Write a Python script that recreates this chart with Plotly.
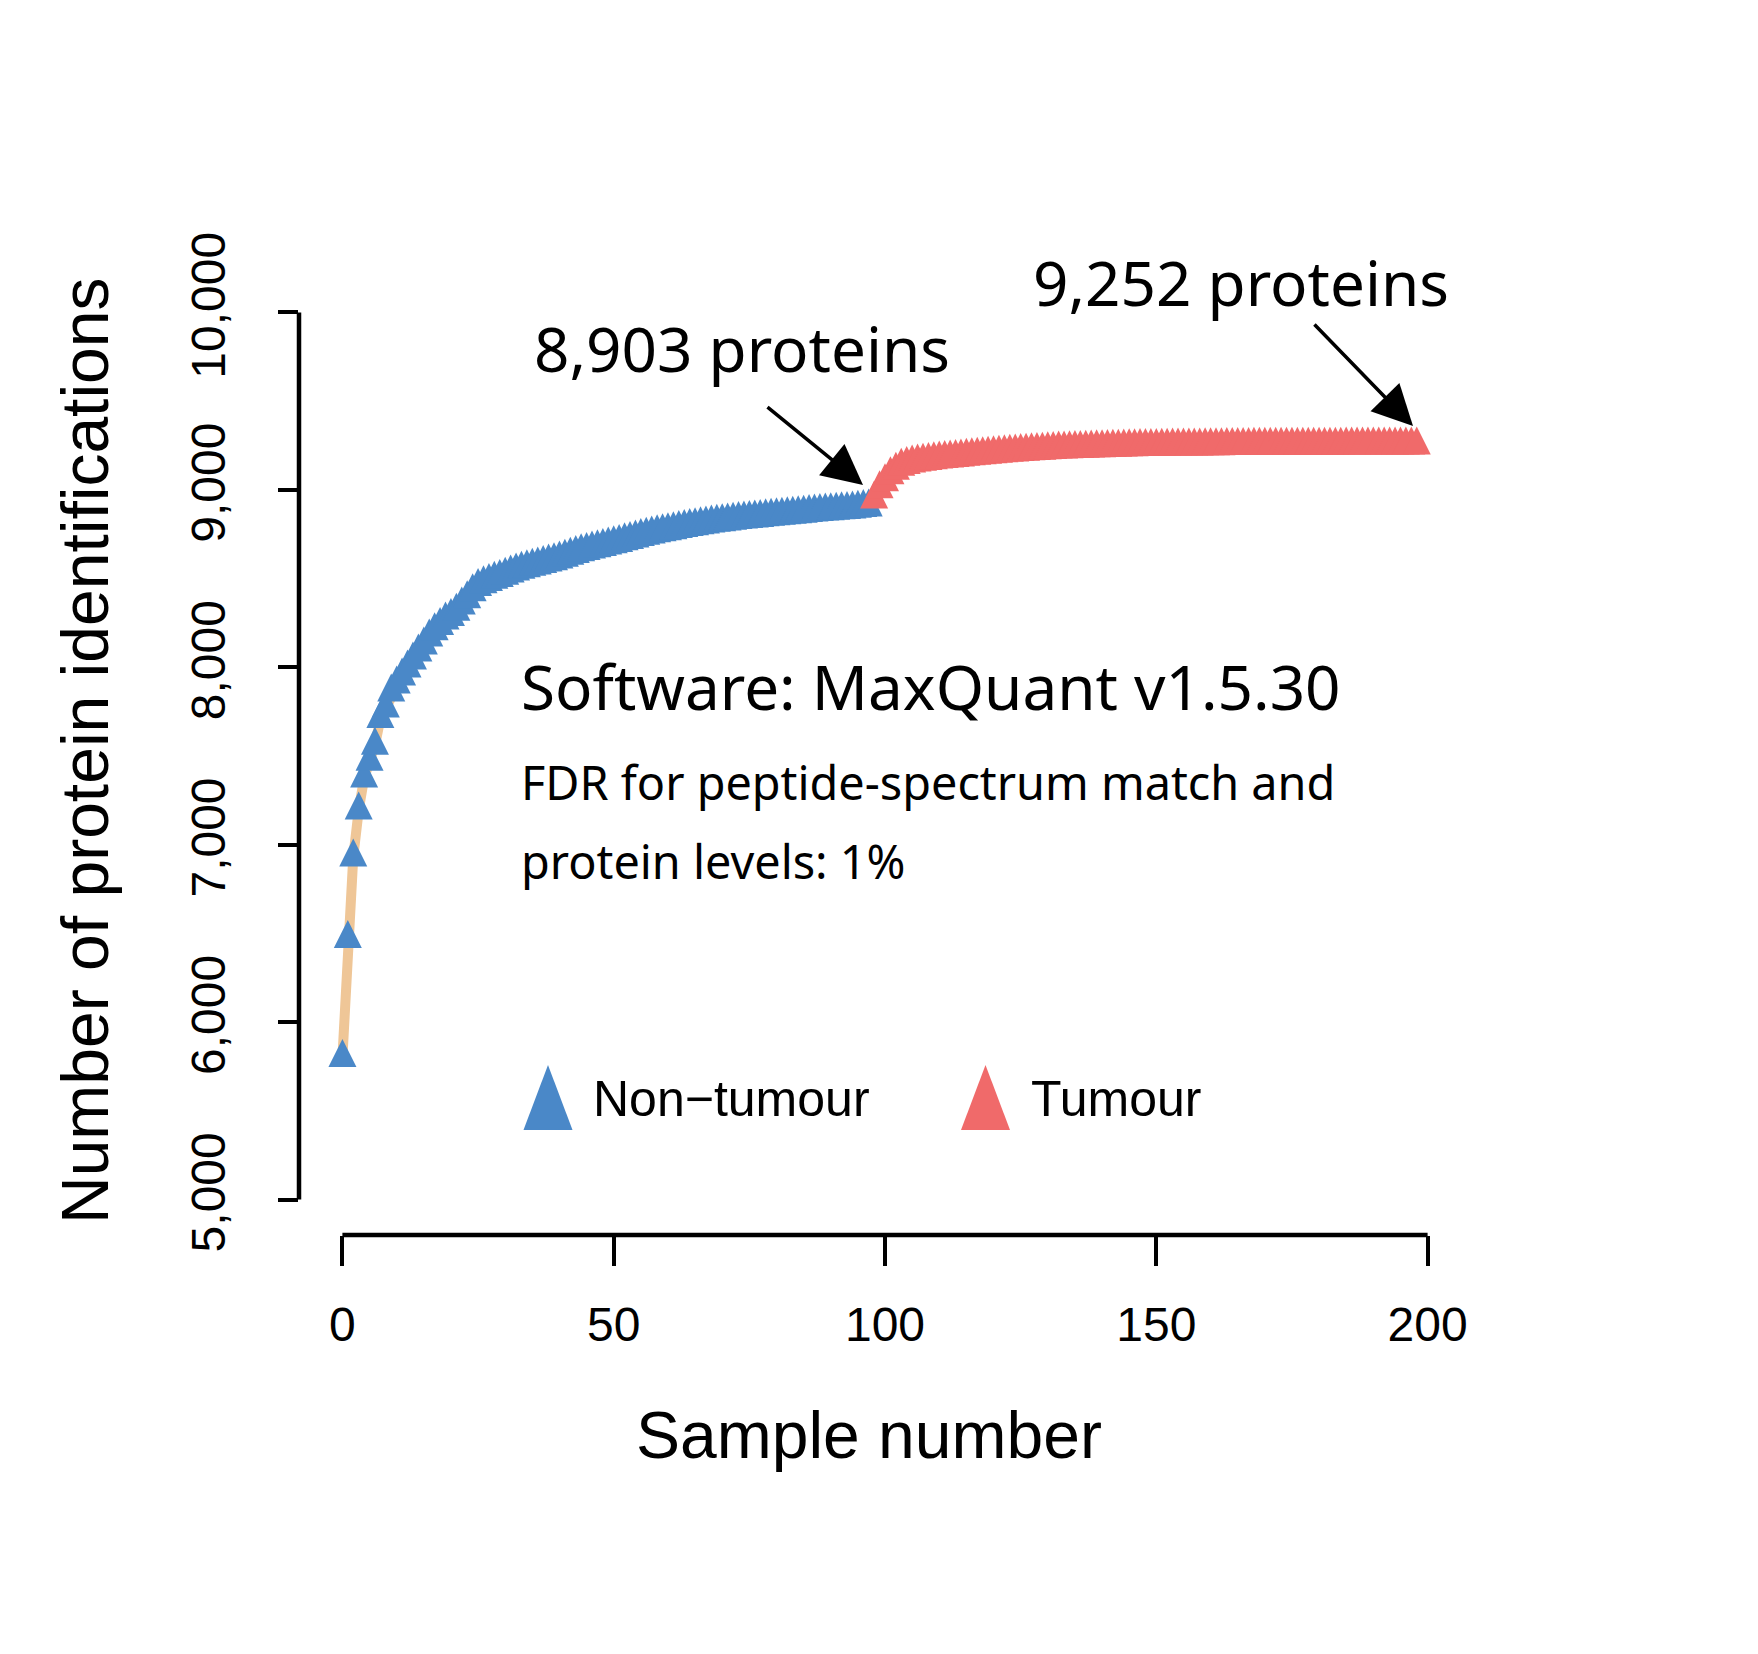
import plotly.graph_objects as go

# ---------------- data ----------------
sample_nontumour = list(range(0, 98))
proteins_nontumour = [
    5800, 6470, 6930, 7195, 7375, 7470, 7560, 7710, 7770, 7860,
    7905, 7950, 7995, 8040, 8085, 8125, 8170, 8205, 8235, 8265,
    8285, 8315, 8350, 8385, 8425, 8455, 8470, 8482, 8495, 8505,
    8518, 8530, 8542, 8552, 8560, 8568, 8576, 8584, 8592, 8600,
    8610, 8620, 8630, 8640, 8650, 8658, 8666, 8673, 8680, 8688,
    8695, 8703, 8712, 8720, 8728, 8737, 8744, 8751, 8757, 8763,
    8769, 8775, 8781, 8787, 8792, 8797, 8802, 8807, 8812, 8816,
    8820, 8824, 8828, 8832, 8835, 8838, 8841, 8844, 8847, 8850,
    8853, 8856, 8859, 8862, 8865, 8868, 8871, 8874, 8877, 8880,
    8882, 8884, 8887, 8889, 8892, 8896, 8900, 8903,
]
sample_tumour = list(range(98, 199))
proteins_tumour = [
    8947, 9005, 9045, 9085, 9110, 9132, 9142, 9150, 9156, 9161,
    9165, 9169, 9173, 9176, 9179, 9182, 9185, 9188, 9191, 9194,
    9197, 9200, 9203, 9206, 9209, 9211, 9213, 9215, 9217, 9219,
    9221, 9223, 9225, 9227, 9229, 9230, 9231, 9232, 9233, 9234,
    9235, 9236, 9237, 9238, 9239, 9240, 9241, 9242, 9242, 9243,
    9243, 9244, 9244, 9245, 9245, 9246, 9246, 9246, 9247, 9247,
    9247, 9248, 9248, 9248, 9248, 9249, 9249, 9249, 9249, 9249,
    9250, 9250, 9250, 9250, 9250, 9250, 9250, 9251, 9251, 9251,
    9251, 9251, 9251, 9251, 9251, 9251, 9251, 9252, 9252, 9252,
    9252, 9252, 9252, 9252, 9252, 9252, 9252, 9252, 9252, 9252,
    9252,
]
x_ticks = [0, 50, 100, 150, 200]
y_ticks = [5000, 6000, 7000, 8000, 9000, 10000]
series_names = ["Non\u2212tumour", "Tumour"]

# ---------------- style ----------------
W, H = 1758, 1654
L, R, T, B = 299, 1471, 277, 1235
BLUE = "#4A88C8"
RED = "#F06A6A"
TAN = "#EFC697"
AXFONT = "Liberation Sans"
TXFONT = "Noto Sans"
MSIZE = 28                      # marker size (px); arrow-up tip sits on the point
Y_RANGE = [4800, 10200]
# shift of the marker axis so that the triangle centroid (2/3 below tip) sits on the value
y_shift = (2.0 / 3.0) * MSIZE * (Y_RANGE[1] - Y_RANGE[0]) / (B - T)


def pxx(v):
    return (v - L) / (R - L)


def pxy(v):
    return (B - v) / (B - T)


fig = go.Figure()
fig.add_trace(go.Scatter(
    x=sample_nontumour + sample_tumour,
    y=proteins_nontumour + proteins_tumour,
    mode="lines", line=dict(color=TAN, width=10), showlegend=False,
    hoverinfo="skip"))
fig.add_trace(go.Scatter(
    x=sample_nontumour, y=proteins_nontumour, mode="markers", yaxis="y2",
    marker=dict(symbol="arrow-up", size=MSIZE, color=BLUE, line=dict(width=0)),
    name=series_names[0], showlegend=False))
fig.add_trace(go.Scatter(
    x=sample_tumour, y=proteins_tumour, mode="markers", yaxis="y2",
    marker=dict(symbol="arrow-up", size=MSIZE, color=RED, line=dict(width=0)),
    name=series_names[1], showlegend=False))

shapes = [
    dict(type="line", xref="paper", yref="y", x0=0, x1=0,
         y0=y_ticks[0], y1=y_ticks[-1], line=dict(color="black", width=4.5)),
    dict(type="line", xref="x", yref="paper", x0=x_ticks[0], x1=x_ticks[-1],
         y0=0, y1=0, line=dict(color="black", width=4.5)),
]


def tri(cx, top, bottom, half, color):
    return dict(type="path", xref="paper", yref="paper",
                path=f"M {pxx(cx - half)} {pxy(bottom)} L {pxx(cx + half)} {pxy(bottom)} "
                     f"L {pxx(cx)} {pxy(top)} Z",
                fillcolor=color, line=dict(width=0))


shapes.append(tri(548, 1065, 1130, 24.5, BLUE))
shapes.append(tri(985.5, 1065, 1130, 24.5, RED))

annotations = [
    dict(text="Number of protein identifications", textangle=-90,
         x=pxx(85), y=pxy(751), xref="paper", yref="paper",
         showarrow=False, font=dict(family=AXFONT, size=66, color="black"),
         xanchor="center", yanchor="middle"),
    dict(text="Sample number", x=pxx(869), y=pxy(1435), xref="paper", yref="paper",
         showarrow=False, font=dict(family=AXFONT, size=66, color="black"),
         xanchor="center", yanchor="middle"),
    dict(text="8,903 proteins", x=pxx(742), y=pxy(348), xref="paper", yref="paper",
         showarrow=False, font=dict(family=TXFONT, size=62, color="black"),
         xanchor="center", yanchor="middle"),
    dict(text="9,252 proteins", x=pxx(1241), y=pxy(282), xref="paper", yref="paper",
         showarrow=False, font=dict(family=TXFONT, size=62, color="black"),
         xanchor="center", yanchor="middle"),
    dict(text="Software: MaxQuant v1.5.30", x=pxx(519), y=pxy(686), xref="paper",
         yref="paper", showarrow=False,
         font=dict(family=TXFONT, size=62, color="black"),
         xanchor="left", yanchor="middle"),
    dict(text="FDR for peptide-spectrum match and", x=pxx(519), y=pxy(782),
         xref="paper", yref="paper", showarrow=False,
         font=dict(family=TXFONT, size=46.8, color="black"),
         xanchor="left", yanchor="middle"),
    dict(text="protein levels: 1%", x=pxx(519), y=pxy(861),
         xref="paper", yref="paper", showarrow=False,
         font=dict(family=TXFONT, size=46.8, color="black"),
         xanchor="left", yanchor="middle"),
    dict(text=series_names[0], x=pxx(591), y=pxy(1099), xref="paper", yref="paper",
         showarrow=False, font=dict(family=AXFONT, size=50, color="black"),
         xanchor="left", yanchor="middle"),
    dict(text=series_names[1], x=pxx(1029), y=pxy(1099), xref="paper", yref="paper",
         showarrow=False, font=dict(family=AXFONT, size=50, color="black"),
         xanchor="left", yanchor="middle"),
    dict(text="", x=pxx(863), y=pxy(485), xref="paper", yref="paper",
         ax=-97, ay=-79, showarrow=True, arrowhead=2, arrowsize=2.3,
         arrowwidth=3.5, arrowcolor="black"),
    dict(text="", x=pxx(1413), y=pxy(426), xref="paper", yref="paper",
         ax=-100, ay=-103, showarrow=True, arrowhead=2, arrowsize=2.3,
         arrowwidth=3.5, arrowcolor="black"),
]

fig.update_layout(
    width=W, height=H, autosize=False,
    margin=dict(l=L, r=W - R, t=T, b=H - B, pad=0),
    paper_bgcolor="white", plot_bgcolor="white",
    showlegend=False,
    shapes=shapes, annotations=annotations,
    xaxis=dict(range=[-8, 208], tickvals=x_ticks, ticktext=[str(v) for v in x_ticks],
               ticks="outside", ticklen=30, tickwidth=4, tickcolor="black",
               showgrid=False, zeroline=False, showline=False,
               tickfont=dict(family=AXFONT, size=48, color="black"),
               ticklabelstandoff=17),
    yaxis=dict(range=Y_RANGE, tickvals=y_ticks, tickformat=",d",
               ticks="outside", ticklen=20, tickwidth=4, tickcolor="black",
               showgrid=False, zeroline=False, showline=False, tickangle=-90,
               tickfont=dict(family=AXFONT, size=48, color="black"),
               ticklabelstandoff=34),
    yaxis2=dict(range=[Y_RANGE[0] - y_shift, Y_RANGE[1] - y_shift],
                overlaying="y", visible=False, showgrid=False, zeroline=False),
)

fig.write_html("out.html")
